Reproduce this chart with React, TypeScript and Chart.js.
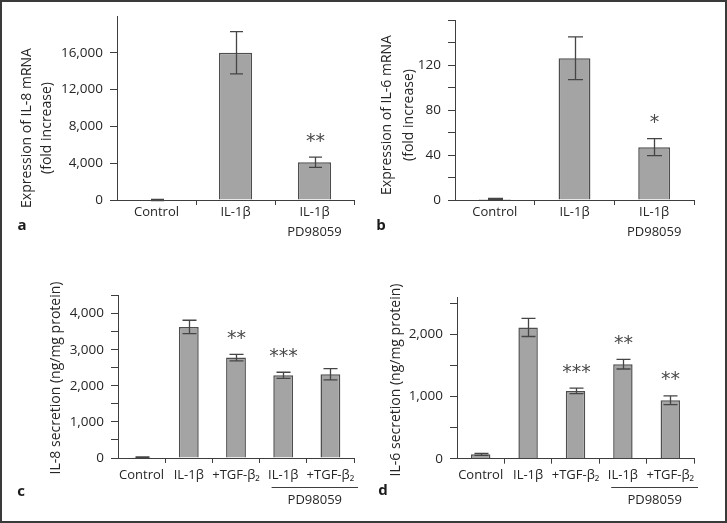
import React, { useEffect, useRef } from 'react';
import { Chart, registerables } from 'chart.js';

Chart.register(...registerables);

// ---------------- Data ----------------
// Panel a: IL-8 mRNA expression
const categoriesA: (string | string[])[] = ['Control', 'IL-1β', ['IL-1β', 'PD98059']];
const valuesA = [0, 16000, 4100];
const errorsA = [60, 2300, 550];
const starsA = ['', '', '**'];
const yTicksA = [0, 4000, 8000, 12000, 16000];
const yLabelsA = [0, 4000, 8000, 12000, 16000];
const yMaxA = 20000;
const titleA = ['Expression of IL-8 mRNA', '(fold increase)'];

// Panel b: IL-6 mRNA expression
const categoriesB: (string | string[])[] = ['Control', 'IL-1β', ['IL-1β', 'PD98059']];
const valuesB = [1, 126, 47];
const errorsB = [0.4, 19, 7.5];
const starsB = ['', '', '*'];
const yTicksB = [0, 20, 40, 60, 80, 100, 120, 140, 160];
const yLabelsB = [0, 40, 80, 120];
const yMaxB = 160;
const titleB = ['Expression of IL-6 mRNA', '(fold increase)'];

// Panel c: IL-8 secretion
const categoriesC: (string | string[])[] = ['Control', 'IL-1β', '+TGF-β₂', 'IL-1β', '+TGF-β₂'];
const valuesC = [20, 3630, 2780, 2290, 2320];
const errorsC = [8, 185, 90, 85, 155];
const starsC = ['', '', '**', '***', ''];
const yTicksC = [0, 500, 1000, 1500, 2000, 2500, 3000, 3500, 4000, 4500];
const yLabelsC = [0, 1000, 2000, 3000, 4000];
const yMaxC = 4500;
const titleC = ['IL-8 secretion (ng/mg protein)'];

// Panel d: IL-6 secretion
const categoriesD: (string | string[])[] = ['Control', 'IL-1β', '+TGF-β₂', 'IL-1β', '+TGF-β₂'];
const valuesD = [70, 2110, 1090, 1520, 940];
const errorsD = [15, 145, 45, 78, 70];
const starsD = ['', '', '***', '**', '**'];
const yTicksD = [0, 500, 1000, 1500, 2000, 2500];
const yLabelsD = [0, 1000, 2000];
const yMaxD = 2600;
const titleD = ['IL-6 secretion (ng/mg protein)'];

const groupLabel = 'PD98059';

// ---------------- Styles ----------------
const FONT = '"Open Sans", "Noto Sans", sans-serif';
const AXIS = '#3e3e3e';
const TEXT = '#262626';
const BAR_FILL = '#a4a4a4';
const BAR_EDGE = '#4e4e4e';
const ERR = '#454545';
const STAR = '#4a4a4a';

interface Layout {
  x: number; y: number; w: number; h: number;
  pad: { left: number; right: number; top: number; bottom: number };
  xPad: number;
  titleX: number[]; titleY: number;
  letterX: number; letterY: number;
  barPct: number; cap: number;
  groupFrom?: number; lineY?: number; groupTextY?: number;
}

interface PanelDef {
  letter: string;
  categories: (string | string[])[];
  values: number[];
  errors: number[];
  stars: string[];
  ticks: number[];
  labeled: number[];
  max: number;
  title: string[];
  layout: Layout;
}

const panels: PanelDef[] = [
  {
    letter: 'a', categories: categoriesA, values: valuesA, errors: errorsA, stars: starsA,
    ticks: yTicksA, labeled: yLabelsA, max: yMaxA, title: titleA,
    layout: {
      x: 0, y: 0, w: 364, h: 262,
      pad: { left: 117, right: 10, top: 16, bottom: 62 }, xPad: -3,
      titleX: [27, 47], titleY: 128, letterX: 22, letterY: 226,
      barPct: 0.42, cap: 13,
    },
  },
  {
    letter: 'b', categories: categoriesB, values: valuesB, errors: errorsB, stars: starsB,
    ticks: yTicksB, labeled: yLabelsB, max: yMaxB, title: titleB,
    layout: {
      x: 364, y: 0, w: 363, h: 262,
      pad: { left: 91, right: 33, top: 20, bottom: 62 }, xPad: -3,
      titleX: [23, 45], titleY: 115, letterX: 17, letterY: 226,
      barPct: 0.40, cap: 15,
    },
  },
  {
    letter: 'c', categories: categoriesC, values: valuesC, errors: errorsC, stars: starsC,
    ticks: yTicksC, labeled: yLabelsC, max: yMaxC, title: titleC,
    layout: {
      x: 0, y: 262, w: 364, h: 261,
      pad: { left: 118, right: 10, top: 33.5, bottom: 65 }, xPad: 2,
      titleX: [56], titleY: 116, letterX: 21, letterY: 230,
      barPct: 0.42, cap: 14,
      groupFrom: 3, lineY: 225, groupTextY: 238,
    },
  },
  {
    letter: 'd', categories: categoriesD, values: valuesD, errors: errorsD, stars: starsD,
    ticks: yTicksD, labeled: yLabelsD, max: yMaxD, title: titleD,
    layout: {
      x: 364, y: 262, w: 363, h: 261,
      pad: { left: 93, right: 33, top: 35, bottom: 64.3 }, xPad: 2,
      titleX: [32], titleY: 118, letterX: 19, letterY: 229,
      barPct: 0.41, cap: 14,
      groupFrom: 3, lineY: 225, groupTextY: 238,
    },
  },
];

function makePlugin(p: PanelDef) {
  const L = p.layout;
  return {
    id: 'annot_' + p.letter,
    afterDatasetsDraw(chart: any) {
      const ctx: CanvasRenderingContext2D = chart.ctx;
      const meta = chart.getDatasetMeta(0);
      const ys = chart.scales.y;
      ctx.save();
      ctx.strokeStyle = ERR;
      ctx.lineWidth = 1.3;
      p.values.forEach((v, i) => {
        const x = Math.round(meta.data[i].x) + 0.5;
        const top = ys.getPixelForValue(v + p.errors[i]);
        const bot = ys.getPixelForValue(v - p.errors[i]);
        const hc = L.cap / 2;
        ctx.beginPath();
        ctx.moveTo(x, top); ctx.lineTo(x, bot);
        ctx.moveTo(x - hc, top); ctx.lineTo(x + hc, top);
        ctx.moveTo(x - hc, bot); ctx.lineTo(x + hc, bot);
        ctx.stroke();
        if (p.stars[i]) {
          ctx.font = '19px "DejaVu Sans", sans-serif';
          ctx.fillStyle = STAR;
          ctx.textAlign = 'center';
          ctx.textBaseline = 'alphabetic';
          const m = ctx.measureText(p.stars[i]);
          const center = top - 20;
          const base = center + (m.actualBoundingBoxAscent - m.actualBoundingBoxDescent) / 2;
          ctx.fillText(p.stars[i], x, base);
        }
      });
      ctx.restore();
    },
    afterDraw(chart: any) {
      const ctx: CanvasRenderingContext2D = chart.ctx;
      const xs = chart.scales.x;
      ctx.save();
      // Y axis title
      ctx.fillStyle = TEXT;
      ctx.font = `14px ${FONT}`;
      ctx.textAlign = 'center';
      ctx.textBaseline = 'middle';
      p.title.forEach((t, i) => {
        ctx.save();
        ctx.translate(L.titleX[i], L.titleY);
        ctx.rotate(-Math.PI / 2);
        ctx.fillText(t, 0, 0);
        ctx.restore();
      });
      // Panel letter
      ctx.font = `bold 15px ${FONT}`;
      ctx.fillStyle = '#1a1a1a';
      ctx.fillText(p.letter, L.letterX, L.letterY);
      // Group underline + label
      if (L.groupFrom !== undefined && L.lineY !== undefined) {
        const n = p.categories.length;
        const half = (xs.getPixelForValue(1) - xs.getPixelForValue(0)) / 2;
        const x1 = xs.getPixelForValue(L.groupFrom) - half + 12;
        const x2 = xs.getPixelForValue(n - 1) + half + 4;
        ctx.strokeStyle = AXIS;
        ctx.lineWidth = 1.2;
        ctx.beginPath();
        ctx.moveTo(x1, L.lineY + 0.5);
        ctx.lineTo(x2, L.lineY + 0.5);
        ctx.stroke();
        ctx.font = `13px ${FONT}`;
        ctx.fillStyle = TEXT;
        ctx.fillText(groupLabel, (x1 + x2) / 2, L.groupTextY!);
      }
      ctx.restore();
    },
  };
}

function Panel({ def }: { def: PanelDef }) {
  const ref = useRef<HTMLCanvasElement>(null);
  useEffect(() => {
    const L = def.layout;
    const chart = new Chart(ref.current!, {
      type: 'bar',
      data: {
        labels: def.categories as any,
        datasets: [
          {
            data: def.values,
            backgroundColor: BAR_FILL,
            borderColor: BAR_EDGE,
            borderWidth: 1.5,
            borderSkipped: 'start',
            categoryPercentage: 1,
            barPercentage: L.barPct,
          },
        ],
      },
      options: {
        responsive: false,
        animation: false,
        events: [],
        layout: { padding: { left: 0, right: L.pad.right, top: L.pad.top, bottom: 0 } },
        plugins: {
          legend: { display: false },
          tooltip: { enabled: false },
          title: { display: false },
        },
        scales: {
          x: {
            type: 'category',
            offset: true,
            grid: {
              offset: true,
              drawOnChartArea: false,
              drawTicks: true,
              tickLength: 5,
              color: (c: any) => (c.index === 0 ? 'rgba(0,0,0,0)' : AXIS),
              lineWidth: 1,
            },
            border: { color: AXIS, width: 1 },
            ticks: {
              color: TEXT,
              font: { family: FONT, size: 13, lineHeight: 20 / 13 },
              padding: L.xPad,
              autoSkip: false,
              maxRotation: 0,
              minRotation: 0,
            },
            afterFit: (s: any) => { s.height = L.pad.bottom; },
          },
          y: {
            type: 'linear',
            min: 0,
            max: def.max,
            afterBuildTicks: (s: any) => { s.ticks = def.ticks.map((v) => ({ value: v })); },
            grid: { drawOnChartArea: false, drawTicks: true, tickLength: 7, color: AXIS, lineWidth: 1 },
            border: { color: AXIS, width: 1 },
            ticks: {
              color: TEXT,
              font: { family: FONT, size: 13.5 },
              padding: 7,
              autoSkip: false,
              callback: (v: any) => (def.labeled.includes(Number(v)) ? Number(v).toLocaleString('en-US') : ''),
            },
            afterFit: (s: any) => { s.width = L.pad.left; },
          },
        },
      } as any,
      plugins: [makePlugin(def)],
    });
    return () => chart.destroy();
  }, [def]);
  const L = def.layout;
  return (
    <canvas
      ref={ref}
      width={L.w}
      height={L.h}
      style={{ position: 'absolute', left: L.x, top: L.y, width: L.w, height: L.h }}
    />
  );
}

export default function App() {
  return (
    <div style={{ position: 'absolute', left: 0, top: 0, width: 727, height: 523, background: '#fff', overflow: 'hidden' }}>
      {panels.map((p) => (
        <Panel key={p.letter} def={p} />
      ))}
      <div
        style={{
          position: 'absolute', left: 0, top: 0, width: 727, height: 523,
          border: '2px solid #3a3a3a', boxSizing: 'border-box', pointerEvents: 'none',
        }}
      />
    </div>
  );
}
